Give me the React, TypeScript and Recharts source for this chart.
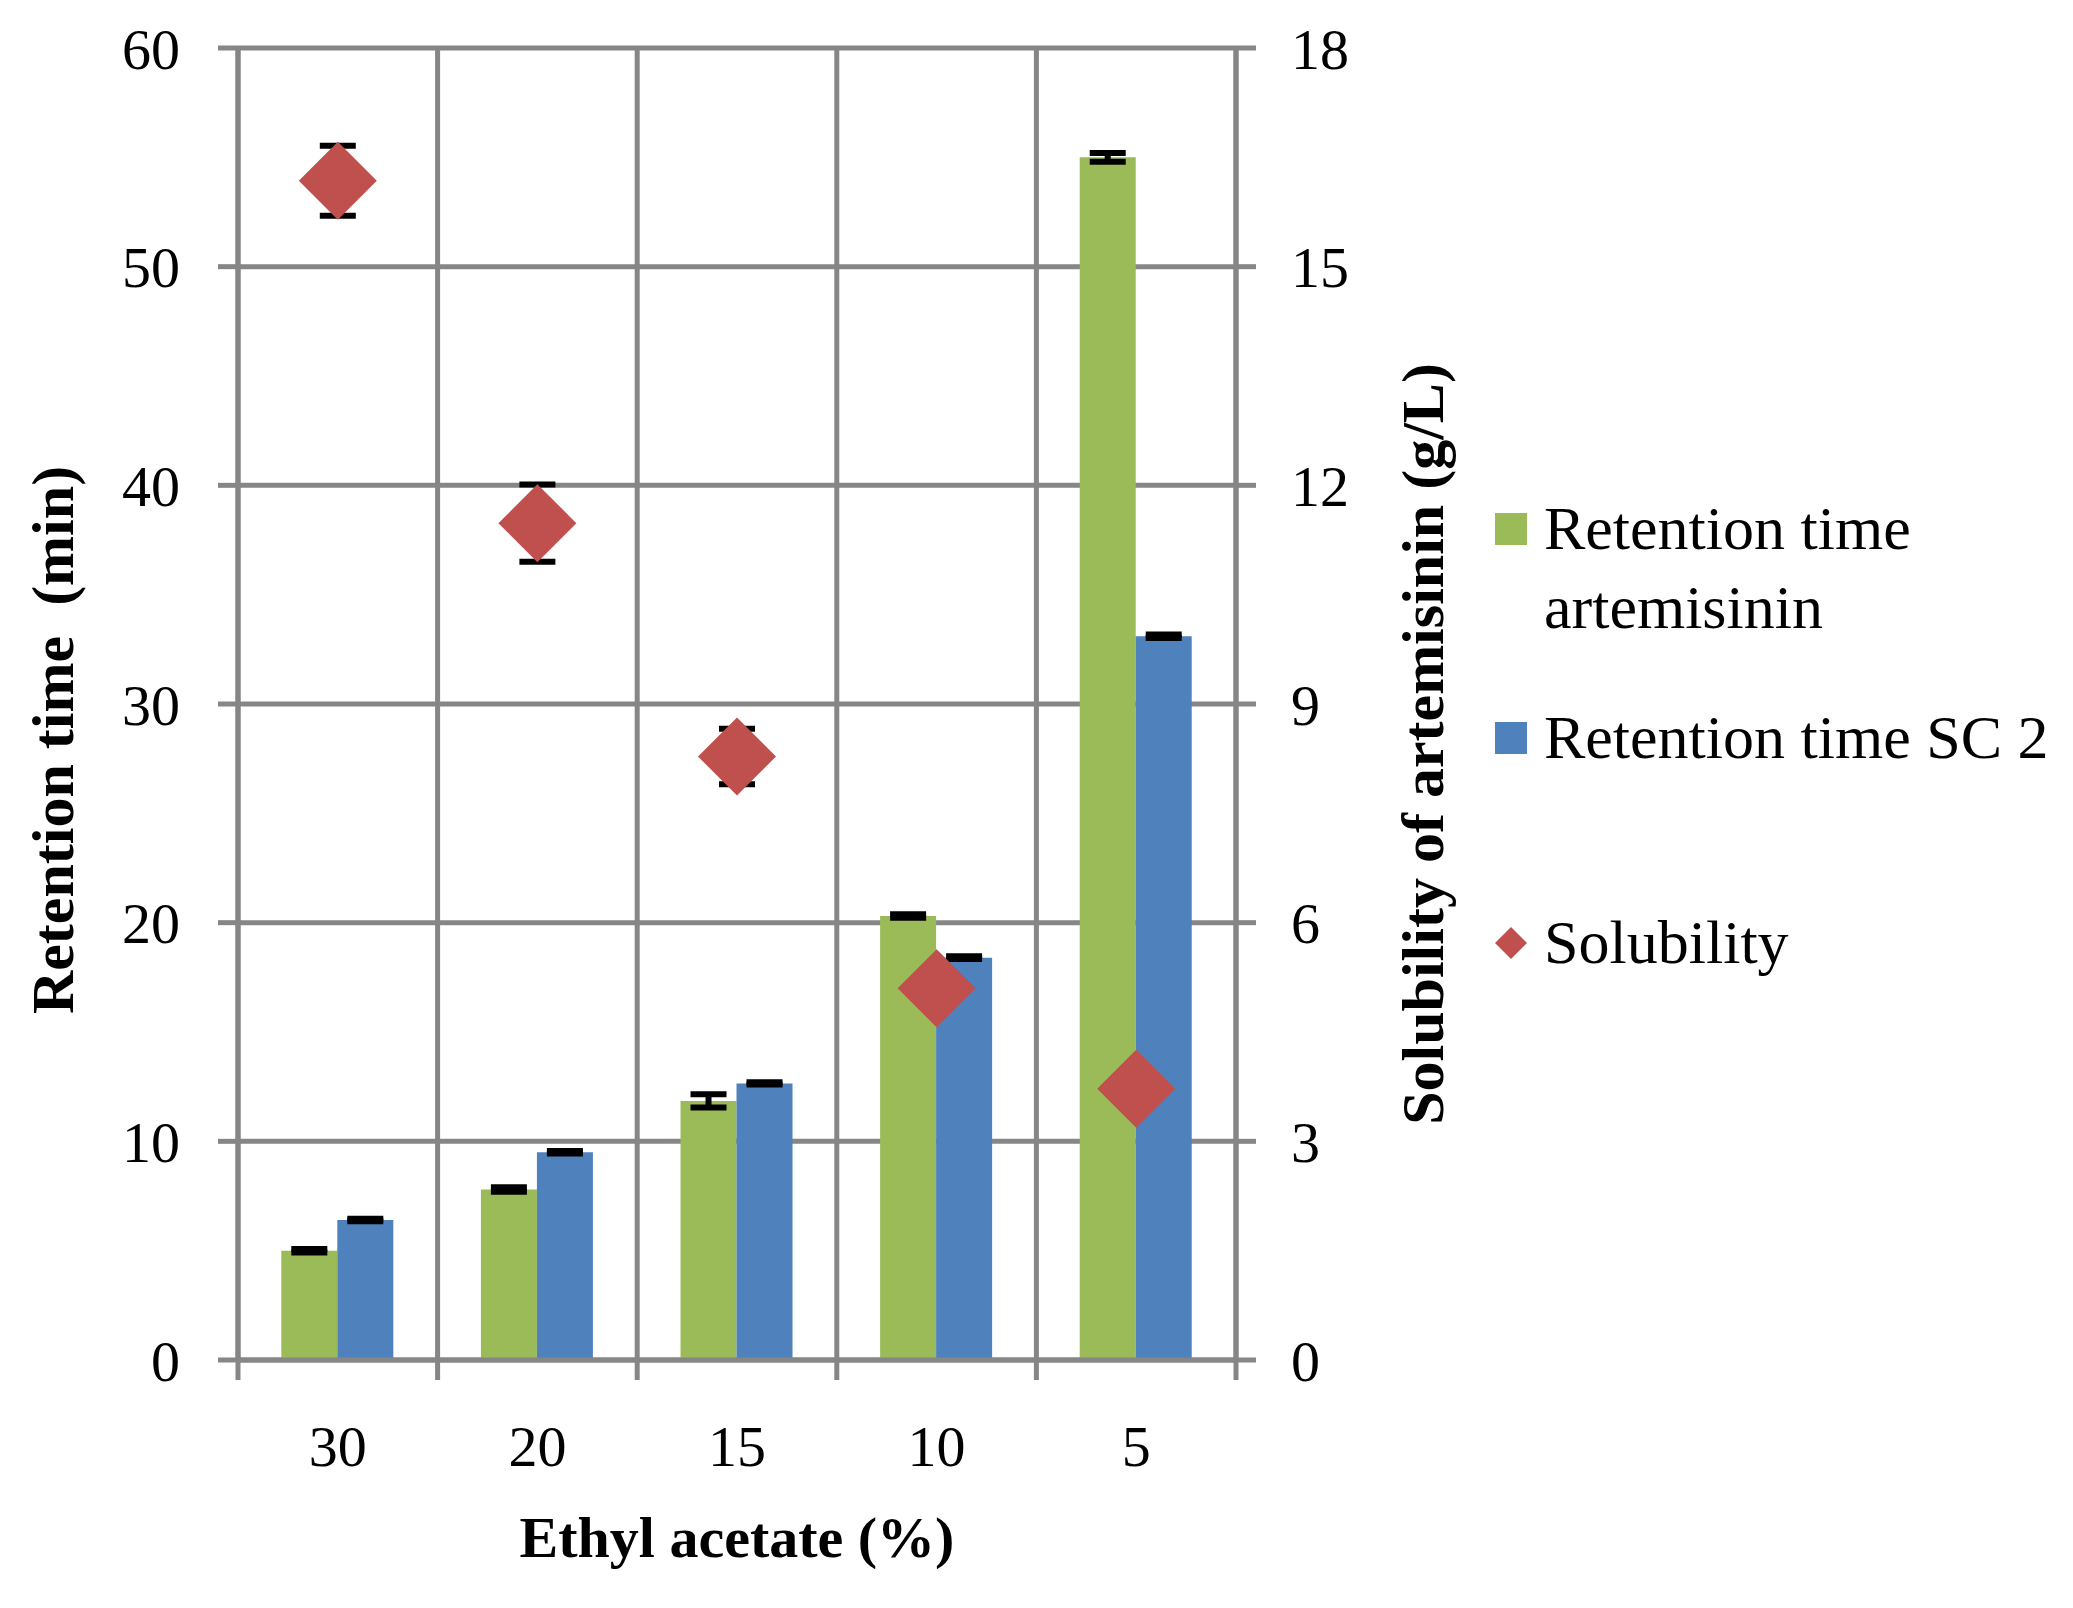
import React from 'react';
import {
  ComposedChart,
  Bar,
  Scatter,
  XAxis,
  YAxis,
  CartesianGrid,
  ErrorBar,
  Legend
} from 'recharts';

const categories = ['30', '20', '15', '10', '5'];
const artemisinin = [5.0, 7.8, 11.85, 20.3, 55.0];
const artemisininErr = [0.08, 0.1, 0.3, 0.08, 0.2];
const sc2 = [6.4, 9.5, 12.65, 18.4, 33.1];
const sc2Err = [0.06, 0.06, 0.05, 0.06, 0.08];
const solubility = [16.18, 11.48, 8.28, 5.1, 3.72];
const solubilityErr = [0.48, 0.53, 0.38, 0.2, 0.2];
const leftTicks = [0, 10, 20, 30, 40, 50, 60];
const rightTicks = [0, 3, 6, 9, 12, 15, 18];
const seriesNames = ['Retention time artemisinin', 'Retention time SC 2', 'Solubility'];

const data = categories.map((cat, i) => ({
  cat,
  art: artemisinin[i],
  artErr: artemisininErr[i],
  sc2: sc2[i],
  sc2Err: sc2Err[i],
  sol: solubility[i],
  solErr: solubilityErr[i]
}));

const FONT = '"Liberation Serif", serif';
const GRID = '#868686';
const LINE_W = 5;
const GREEN = '#9BBB59';
const BLUE = '#4F81BD';
const RED = '#C0504D';
const X_TICK_MARGIN = 65;

const Diamond = (props: any) => {
  const { cx, cy } = props;
  const r = 39;
  return (
    <polygon
      points={`${cx},${cy - r} ${cx + r},${cy} ${cx},${cy + r} ${cx - r},${cy}`}
      fill={RED}
    />
  );
};

// category label plus the tick marks on the band edges
const CategoryTick = (props: any) => {
  const { x, y, payload, index, visibleTicksCount, width } = props;
  const half = payload.offset || width / visibleTicksCount / 2;
  const axisY = y - X_TICK_MARGIN;
  return (
    <g>
      <line x1={x - half} x2={x - half} y1={axisY} y2={axisY + 20} stroke={GRID} strokeWidth={LINE_W} />
      {index === visibleTicksCount - 1 && (
        <line x1={x + half} x2={x + half} y1={axisY} y2={axisY + 20} stroke={GRID} strokeWidth={LINE_W} />
      )}
      <text x={x} y={y} dy="0.71em" textAnchor="middle" fontFamily={FONT} fontSize={58} fill="#000">
        {payload.value}
      </text>
    </g>
  );
};

const axisTitle = (text: string, dx: number, dy: number) => (props: any) => {
  const { x, y, height } = props.viewBox;
  const cx = x + dx;
  const cy = y + height / 2 + dy;
  return (
    <text
      x={cx}
      y={cy}
      transform={`rotate(-90, ${cx}, ${cy})`}
      textAnchor="middle"
      dominantBaseline="central"
      fontFamily={FONT}
      fontWeight="bold"
      fontSize={60}
      fill="#000"
      style={{ whiteSpace: 'pre' }}
    >
      {text}
    </text>
  );
};

const itemGaps = [0, 51, 126];

const renderLegend = (props: any) => {
  const payload = [...(props.payload || [])].sort(
    (a: any, b: any) => seriesNames.indexOf(a.value) - seriesNames.indexOf(b.value)
  );
  return (
    <div style={{ fontFamily: FONT, fontSize: 62, lineHeight: '79px', color: '#000' }}>
      {payload.map((entry: any, i: number) => (
        <div
          key={entry.value}
          style={{ display: 'flex', alignItems: 'flex-start', marginTop: itemGaps[i] }}
        >
          <svg width={32} height={32} style={{ marginTop: 24, marginRight: 17, flex: 'none' }}>
            {entry.type === 'diamond' ? (
              <polygon points="16,0 32,16 16,32 0,16" fill={entry.color} />
            ) : (
              <rect width={32} height={32} fill={entry.color} />
            )}
          </svg>
          <span style={{ width: 520 }}>{entry.value}</span>
        </div>
      ))}
    </div>
  );
};

const bandEdges = ({ offset }: any) =>
  [0, ...categories.map((_, i) => i + 1)].map(
    (i) => offset.left + (i * offset.width) / categories.length
  );

const App = () => {
  return (
    <ComposedChart
      width={2057}
      height={1592}
      data={data}
      margin={{ top: 40, right: 609, bottom: 20, left: 0 }}
      barCategoryGap="21.7%"
      barGap={0}
      style={{ fontFamily: FONT }}
    >
      <CartesianGrid
        yAxisId="left"
        stroke={GRID}
        strokeWidth={LINE_W}
        verticalCoordinatesGenerator={bandEdges}
      />
      <XAxis
        dataKey="cat"
        interval={0}
        axisLine={{ stroke: GRID, strokeWidth: LINE_W }}
        tickLine={false}
        tickSize={0}
        tickMargin={X_TICK_MARGIN}
        height={220}
        tick={<CategoryTick />}
        label={{
          value: 'Ethyl acetate (%)',
          position: 'insideBottom',
          offset: 23,
          fill: '#000',
          fontSize: 58,
          fontWeight: 'bold',
          fontFamily: FONT
        }}
      />
      <YAxis
        yAxisId="left"
        domain={[0, 60]}
        ticks={leftTicks}
        width={230}
        tickSize={20}
        tickMargin={38}
        axisLine={{ stroke: GRID, strokeWidth: LINE_W }}
        tickLine={{ stroke: GRID, strokeWidth: LINE_W }}
        tick={{ fill: '#000', fontSize: 58, fontFamily: FONT }}
        label={{ content: axisTitle('Retention time\u00a0 (min)', 45, 36) }}
      />
      <YAxis
        yAxisId="right"
        orientation="right"
        domain={[0, 18]}
        ticks={rightTicks}
        width={220}
        tickSize={20}
        tickMargin={35}
        axisLine={{ stroke: GRID, strokeWidth: LINE_W }}
        tickLine={{ stroke: GRID, strokeWidth: LINE_W }}
        tick={{ fill: '#000', fontSize: 58, fontFamily: FONT }}
        label={{ content: axisTitle('Solubility of artemisinin (g/L)', 187, 40) }}
      />
      <Legend
        layout="vertical"
        align="center"
        verticalAlign="middle"
        wrapperStyle={{ left: 1487, top: 481, width: 570 }}
        content={renderLegend}
      />
      <Bar
        yAxisId="left"
        dataKey="art"
        name={seriesNames[0]}
        fill={GREEN}
        isAnimationActive={false}
      >
        <ErrorBar dataKey="artErr" direction="y" width={18} stroke="#000" strokeWidth={6} />
      </Bar>
      <Bar
        yAxisId="left"
        dataKey="sc2"
        name={seriesNames[1]}
        fill={BLUE}
        isAnimationActive={false}
      >
        <ErrorBar dataKey="sc2Err" direction="y" width={18} stroke="#000" strokeWidth={6} />
      </Bar>
      <Scatter
        yAxisId="right"
        dataKey="sol"
        name={seriesNames[2]}
        fill={RED}
        legendType="diamond"
        shape={Diamond}
        isAnimationActive={false}
      >
        <ErrorBar dataKey="solErr" direction="y" width={18} stroke="#000" strokeWidth={6} />
      </Scatter>
    </ComposedChart>
  );
};

export default App;
